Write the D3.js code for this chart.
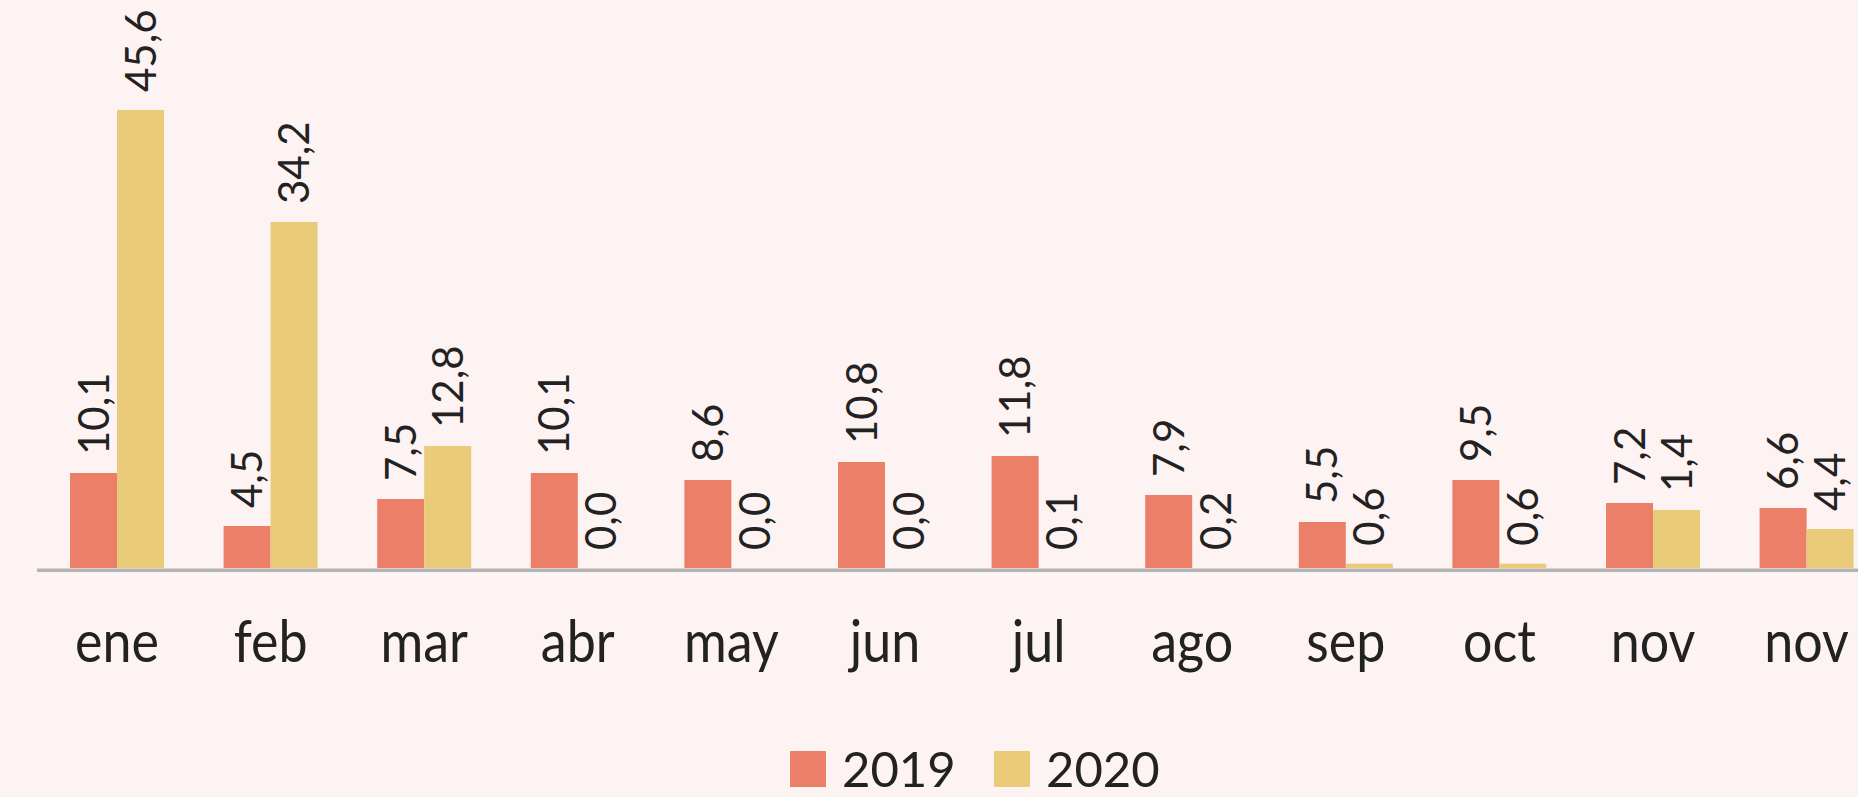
<!DOCTYPE html>
<html>
<head>
<meta charset="utf-8">
<script src="https://cdn.jsdelivr.net/npm/d3@7"></script>
<style>
  html, body { margin: 0; padding: 0; background: #FDF3F2; }
  svg { display: block; }
  text { font-family: Lato, "Open Sans", sans-serif; fill: #222; }
</style>
</head>
<body>
<svg id="chart" width="1858" height="797"></svg>
<script>
// ---- data ----
const categories = ["ene", "feb", "mar", "abr", "may", "jun", "jul", "ago", "sep", "oct", "nov", "nov"];
const seriesNames = ["2019", "2020"];
// bar heights as drawn
const values2019 = [9.5, 4.2, 6.9, 9.5, 8.8, 10.6, 11.2, 7.3, 4.6, 8.8, 6.5, 6.0];
const values2020 = [45.8, 34.6, 12.2, 0, 0, 0, 0, 0, 0.43, 0.43, 5.8, 3.9];
// data labels as printed
const labels2019 = ["10,1", "4,5", "7,5", "10,1", "8,6", "10,8", "11,8", "7,9", "5,5", "9,5", "7,2", "6,6"];
const labels2020 = ["45,6", "34,2", "12,8", "0,0", "0,0", "0,0", "0,1", "0,2", "0,6", "0,6", "1,4", "4,4"];
const colors = ["#EC7F68", "#EACB7A"];

const svg = d3.select("#chart");
svg.append("rect").attr("width", 1858).attr("height", 797).attr("fill", "#FDF3F2");

const x0 = d3.scaleBand().domain(d3.range(categories.length))
  .range([40.2, 1883.4]).paddingInner(0.388).paddingOuter(0.194);
const x1 = d3.scaleBand().domain(seriesNames).range([0, x0.bandwidth()]);
const y = d3.scaleLinear().domain([0, 50]).range([568, 68]);

const rows = categories.map((c, i) => ({
  i, cat: c,
  items: [
    { s: "2019", v: values2019[i], lab: labels2019[i], col: colors[0] },
    { s: "2020", v: values2020[i], lab: labels2020[i], col: colors[1] }
  ]
}));

const g = svg.append("g");
const groups = g.selectAll("g.grp").data(rows).join("g")
  .attr("class", "grp")
  .attr("transform", d => `translate(${x0(d.i)},0)`);

groups.selectAll("rect").data(d => d.items).join("rect")
  .attr("x", d => x1(d.s))
  .attr("y", d => y(d.v))
  .attr("width", x1.bandwidth())
  .attr("height", d => y(0) - y(d.v))
  .attr("fill", d => d.col);

groups.selectAll("text.val").data(d => d.items).join("text")
  .attr("class", "val")
  .attr("transform", d => `translate(${x1(d.s) + x1.bandwidth() / 2},${y(d.v) - 18}) rotate(-90)`)
  .attr("dy", "0.36em")
  .attr("text-anchor", "start")
  .style("font-size", "42px")
  .text(d => d.lab);

// axis line
svg.append("line")
  .attr("x1", 37).attr("x2", 1858)
  .attr("y1", 570.2).attr("y2", 570.2)
  .attr("stroke", "#B3B3B3").attr("stroke-width", 3.6);

// category labels
const xAxis = d3.axisBottom(x0).tickSize(0).tickFormat(i => categories[i]);
const ax = svg.append("g").call(xAxis);
ax.select(".domain").remove();
ax.selectAll(".tick text").remove();
ax.selectAll(".tick").append("text")
  .attr("transform", "translate(0,662) scale(1,1.1)")
  .attr("text-anchor", "middle")
  .style("font-size", "52px")
  .style("fill", "#222")
  .text(i => categories[i]);

// legend
const legendX = [790, 994];
const leg = svg.append("g").selectAll("g").data(seriesNames).join("g")
  .attr("transform", (d, i) => `translate(${legendX[i]},751)`);
leg.append("rect").attr("width", 36).attr("height", 36).attr("fill", (d, i) => colors[i]);
leg.append("text").attr("x", 52).attr("y", 36)
  .style("font-size", "49px")
  .text(d => d);
</script>
</body>
</html>
